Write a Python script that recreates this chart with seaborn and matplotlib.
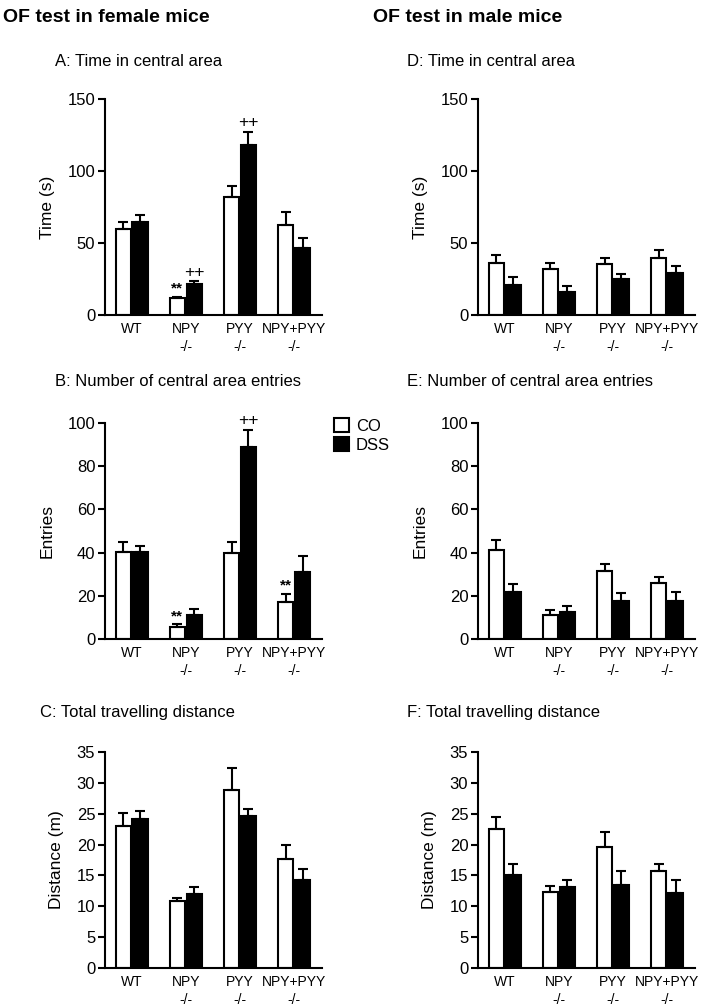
import numpy as np
import pandas as pd
import matplotlib
matplotlib.use("Agg")
import matplotlib.pyplot as plt
import seaborn as sns

# x categories and treatment groups
genotypes = ["WT", "NPY\n-/-", "PYY\n-/-", "NPY+PYY\n-/-"]
treatments = ["CO", "DSS"]

# female mice: mean and upper error (SEM) per genotype
a_co = [59.5, 11.6, 81.7, 62.7]
a_co_err = [5.3, 1.1, 8.1, 9.1]
a_dss = [64.8, 21.3, 118.0, 46.3]
a_dss_err = [4.6, 2.3, 9.3, 7.2]

b_co = [40.4, 5.7, 39.9, 17.3]
b_co_err = [4.3, 1.1, 4.9, 3.5]
b_dss = [40.4, 11.1, 88.9, 31.0]
b_dss_err = [2.6, 2.9, 8.0, 7.5]

c_co = [23.0, 10.9, 28.9, 17.7]
c_co_err = [2.1, 0.5, 3.5, 2.2]
c_dss = [24.1, 12.0, 24.6, 14.2]
c_dss_err = [1.4, 1.2, 1.2, 1.9]

# male mice
d_co = [35.8, 32.0, 35.3, 39.5]
d_co_err = [6.0, 4.3, 4.2, 5.5]
d_dss = [20.9, 16.3, 25.1, 29.3]
d_dss_err = [5.8, 3.5, 3.5, 4.9]

e_co = [41.0, 11.1, 31.3, 26.0]
e_co_err = [4.9, 2.3, 3.4, 2.7]
e_dss = [21.6, 12.3, 17.6, 17.4]
e_dss_err = [3.8, 3.1, 3.8, 4.3]

f_co = [22.6, 12.3, 19.6, 15.7]
f_co_err = [1.8, 1.0, 2.4, 1.1]
f_dss = [15.0, 13.2, 13.5, 12.1]
f_dss_err = [1.9, 1.1, 2.2, 2.2]

# significance marks: (panel, genotype index, treatment, text)
marks = [
    ("A", 1, "CO", "**"), ("A", 1, "DSS", "++"), ("A", 2, "DSS", "++"),
    ("B", 1, "CO", "**"), ("B", 2, "DSS", "++"), ("B", 3, "CO", "**"),
]

panels = {
    "A": ("A: Time in central area", "Time (s)", a_co, a_co_err, a_dss, a_dss_err, 150, 50),
    "B": ("B: Number of central area entries", "Entries", b_co, b_co_err, b_dss, b_dss_err, 100, 20),
    "C": ("C: Total travelling distance", "Distance (m)", c_co, c_co_err, c_dss, c_dss_err, 35, 5),
    "D": ("D: Time in central area", "Time (s)", d_co, d_co_err, d_dss, d_dss_err, 150, 50),
    "E": ("E: Number of central area entries", "Entries", e_co, e_co_err, e_dss, e_dss_err, 100, 20),
    "F": ("F: Total travelling distance", "Distance (m)", f_co, f_co_err, f_dss, f_dss_err, 35, 5),
}

sns.set_style("ticks")
plt.rcParams["font.family"] = ["Liberation Sans", "DejaVu Sans"]
plt.rcParams.update({"text.color": "black", "axes.labelcolor": "black",
                     "xtick.color": "black", "ytick.color": "black"})

W, H = 709, 1007
fig = plt.figure(figsize=(W / 100, H / 100), dpi=100)

# axes boxes in pixels: left, top of plot area (y max), bottom (y = 0)
col_left = {"A": 105, "B": 105, "C": 105, "D": 478, "E": 478, "F": 478}
row_top = {"A": 99, "B": 423, "C": 752, "D": 99, "E": 423, "F": 752}
ax_w, ax_h = 217, 216
title_pos = {"A": (55, 62), "B": (55, 382), "C": (40, 712),
             "D": (407, 62), "E": (407, 382), "F": (407, 712)}

palette = {"CO": "white", "DSS": "black"}

for key, (title, ylabel, co, co_err, dss, dss_err, ymax, step) in panels.items():
    ax = fig.add_axes([col_left[key] / W, 1 - (row_top[key] + ax_h) / H, ax_w / W, ax_h / H])
    df = pd.DataFrame({
        "genotype": genotypes * 2,
        "treatment": ["CO"] * 4 + ["DSS"] * 4,
        "value": co + dss,
        "err": co_err + dss_err,
    })
    sns.barplot(data=df, x="genotype", y="value", hue="treatment", hue_order=treatments,
                order=genotypes, palette=palette, edgecolor="black", linewidth=1.5,
                width=0.62, gap=0.1, errorbar=None, legend=(key == "B"), ax=ax)

    # upper error bars at the bar centres drawn by seaborn
    tops = {}
    for cont, t in zip(ax.containers, treatments):
        sub = df[df["treatment"] == t]
        xs = [p.get_x() + p.get_width() / 2 for p in cont.patches]
        ax.errorbar(xs, sub["value"], yerr=[np.zeros(4), sub["err"]], fmt="none",
                    ecolor="black", elinewidth=1.5, capsize=3.5, capthick=1.5, zorder=1)
        tops[t] = (xs, (sub["value"] + sub["err"]).tolist())

    for pk, gi, t, txt in marks:
        if pk == key:
            xs, ys = tops[t]
            ax.text(xs[gi], ys[gi] + ymax * 0.006, txt, ha="center", va="bottom",
                    fontsize=12.5 if txt == "++" else 11,
                    fontweight="bold" if txt == "**" else "normal")

    ax.set_xlim(-0.49, 3.51)
    ax.set_ylim(0, ymax)
    ax.set_yticks(np.arange(0, ymax + 1, step))
    ax.set_xlabel("")
    ax.set_ylabel(ylabel, fontsize=12.5, labelpad=9)
    ax.tick_params(axis="y", labelsize=12, length=5, width=1.5, pad=2)
    ax.tick_params(axis="x", labelsize=10, length=0, pad=5)
    for lab in ax.get_xticklabels():
        lab.set_linespacing(1.4)
    sns.despine(ax=ax)
    for s in ["left", "bottom"]:
        ax.spines[s].set_linewidth(1.5)
        ax.spines[s].set_color("black")

    tx, ty = title_pos[key]
    fig.text(tx / W, 1 - ty / H, title, fontsize=12, ha="left", va="center")

    if key == "B":
        handles, labels = ax.get_legend_handles_labels()
        ax.legend(handles, labels, loc="upper left", bbox_to_anchor=(334 / W, 1 - 418 / H),
                  bbox_transform=fig.transFigure, frameon=False, fontsize=12,
                  handlelength=0.9, handleheight=0.9, handletextpad=0.4,
                  labelspacing=0.2, borderpad=0, borderaxespad=0)

fig.text(3 / W, 1 - 17 / H, "OF test in female mice", fontsize=14, fontweight="bold",
         ha="left", va="center")
fig.text(373 / W, 1 - 17 / H, "OF test in male mice", fontsize=14, fontweight="bold",
         ha="left", va="center")

fig.savefig("out.png", dpi=100)
